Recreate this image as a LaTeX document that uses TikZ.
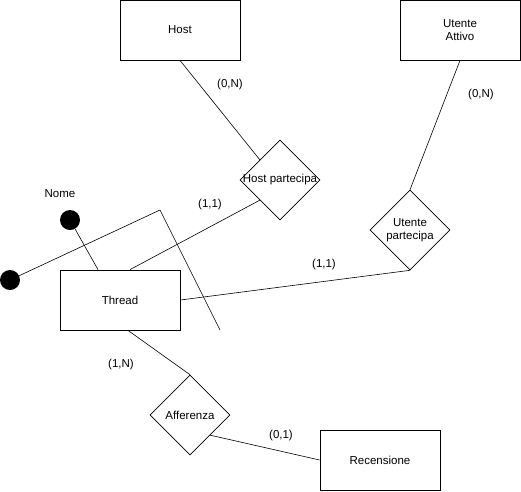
\documentclass[tikz,border=0pt]{standalone}
\usepackage{fontspec}
\setmainfont{Liberation Sans}
\usetikzlibrary{shapes.geometric}
\tikzset{
  entity/.style={draw,line width=0.8pt,minimum width=120pt,minimum height=60pt,inner sep=0pt,align=center},
  relation/.style={draw,line width=0.6pt,diamond,minimum size=80pt,inner sep=0pt},
  attr/.style={circle,fill=black,minimum size=20pt,inner sep=0pt},
  card/.style={inner sep=0pt}
}
\begin{document}
\begin{tikzpicture}[x=1pt,y=-1pt,line width=0.6pt,font=\fontsize{11.5}{13}\selectfont]
  \useasboundingbox (0,0) rectangle (521,491);
  \draw
    (180,30) node[entity] (host){Host}
    (460,30) node[entity] (utente){Utente\\Attivo}
    (120,300) node[entity] (thread){Thread}
    (380,460) node[entity] (recensione){Recensione}
    (280,180) node[relation,label=center:{Host partecipa}] (hostp){}
    (410,230) node[relation,label=center:{\parbox{60pt}{\centering Utente\\partecipa}}] (utentep){}
    (190,415) node[relation,label=center:{Afferenza}] (afferenza){}
    (70,220) node[attr] (nome){}
    (10,280) node[attr] (chiave){};
  \coordinate (k1) at (160,210);
  \coordinate (k2) at (220,330);
  % cardinalities
  \node[card] (c1) at (230,85) {(0,N)};
  \node[card] (c2) at (210,205) {(1,1)};
  \node[card] (c3) at (481,95) {(0,N)};
  \node[card] (c4) at (324,265) {(1,1)};
  \node[card] (c5) at (121,365) {(1,N)};
  \node[card] (c6) at (281,436) {(0,1)};
  \node[card] (lnome) at (60,194) {Nome};
  \begin{scope}[-]
    \draw (host.south) to (hostp.north west);
    \draw ([xshift=10pt]thread.north) to (hostp.south west);
    \draw (utente.south) to (utentep.north);
    \draw (thread.east) to (utentep.south);
    \draw ([xshift=8pt]thread.south) to (afferenza.north);
    \draw (afferenza.south east) to (recensione.west);
    \draw (nome) to ([xshift=-22pt]thread.north);
    \draw (chiave) -- (k1) -- (k2);
  \end{scope}
\end{tikzpicture}
\end{document}
